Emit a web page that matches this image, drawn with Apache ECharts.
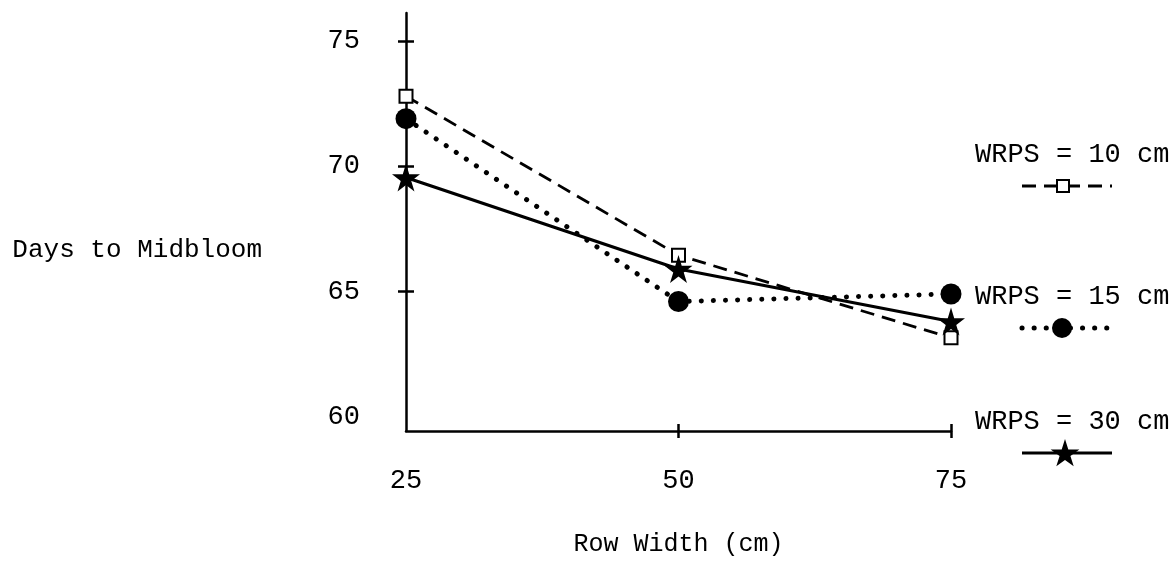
<!DOCTYPE html>
<html>
<head>
<meta charset="utf-8">
<script src="https://cdn.jsdelivr.net/npm/echarts@6/dist/echarts.min.js"></script>
<style>
html,body{margin:0;padding:0;background:#fff;}
#chart{width:1175px;height:562px;}
</style>
</head>
<body>
<div id="chart"></div>
<script>
// ---- data ----
var rowWidths = [25, 50, 75];
var wrps10 = [72.8, 66.45, 63.15];
var wrps15 = [71.9, 64.6, 64.9];
var wrps30 = [69.55, 65.9, 63.8];
var seriesNames = ['WRPS = 10 cm', 'WRPS = 15 cm', 'WRPS = 30 cm'];
var yTickValues = [65, 70, 75];
var yLabelValues = [60, 65, 70, 75];
var xTickValues = [50, 75];
var xLabelValues = [25, 50, 75];
var yTitle = 'Days to Midbloom';
var xTitle = 'Row Width (cm)';

var FONT = 'Liberation Mono';
var FS = 27;
var STAR_PTS = [[50,0],[61,35],[98,35],[68,57],[79,91],[50,70],[21,91],[32,57],[2,35],[39,35]];
var STAR = 'path://M' + STAR_PTS.map(function(p){return p[0]+','+p[1];}).join(' L') + ' Z';

function pairs(vals){ return rowWidths.map(function(x,i){ return [x, vals[i]]; }); }

var chart = echarts.init(document.getElementById('chart'), null, {renderer:'canvas'});

var axisLine = {show:true, onZero:false, lineStyle:{color:'#000', width:2.5}};

var option = {
  backgroundColor:'#fff',
  animation:false,
  grid:{left:406, right:224, top:13, bottom:126, containLabel:false},
  xAxis:[{
    type:'value', min:25, max:75,
    axisLine: axisLine,
    splitLine:{show:false},
    axisTick:{show:true, customValues:xTickValues, length:7, inside:false, lineStyle:{color:'#000', width:2.5}},
    axisLabel:{show:true, customValues:xLabelValues, margin:36, color:'#000', fontFamily:FONT, fontSize:FS},
    name:xTitle, nameLocation:'middle', nameGap:101,
    nameTextStyle:{color:'#000', fontFamily:FONT, fontSize:25}
  },{
    type:'value', min:25, max:75, position:'bottom',
    axisLine:{show:false}, splitLine:{show:false}, axisLabel:{show:false},
    axisTick:{show:true, customValues:xTickValues, length:7, inside:true, lineStyle:{color:'#000', width:2.5}}
  }],
  yAxis:[{
    type:'value', min:59.43, max:76.12,
    axisLine: axisLine,
    splitLine:{show:false},
    axisTick:{show:true, customValues:yTickValues, length:8, inside:false, lineStyle:{color:'#000', width:2.5}},
    axisLabel:{show:true, customValues:yLabelValues, margin:46, color:'#000', fontFamily:FONT, fontSize:FS}
  },{
    type:'value', min:59.43, max:76.12, position:'left',
    axisLine:{show:false}, splitLine:{show:false}, axisLabel:{show:false},
    axisTick:{show:true, customValues:yTickValues, length:8, inside:true, lineStyle:{color:'#000', width:2.5}}
  }],
  series:[
    {name:seriesNames[0], type:'line', data:pairs(wrps10), symbol:'rect', symbolSize:13,
     itemStyle:{color:'#fff', borderColor:'#000', borderWidth:2},
     lineStyle:{color:'#000', width:2.8, type:[14,8]}, z:3},
    {name:seriesNames[1], type:'line', data:pairs(wrps15), symbol:'circle', symbolSize:21,
     itemStyle:{color:'#000', borderColor:'#000', borderWidth:0},
     lineStyle:{color:'#000', width:5, type:[0.1,12], cap:'round'}, z:2},
    {name:seriesNames[2], type:'line', data:pairs(wrps30), symbol:STAR, symbolSize:28,
     itemStyle:{color:'#000', borderColor:'#000', borderWidth:0},
     lineStyle:{color:'#000', width:3.2, type:'solid'}, z:4}
  ]
};

// axis title for y and legend drawn as graphics
var graphics = [];
graphics.push({type:'text', x:262, y:250, style:{text:yTitle, fill:'#000', font:'26px "' + FONT + '"', align:'right', verticalAlign:'middle'}});

var legendTop = [155, 297, 422];
var legendStyles = [
  {dash:[14,8], w:2.8, sym:'rect'},
  {dash:[0.1,12], w:5, sym:'circle'},
  {dash:null, w:3.2, sym:'star'}
];
seriesNames.forEach(function(name, i){
  var ty = legendTop[i];
  var ly = ty + 31;
  graphics.push({type:'text', x:975, y:ty, style:{text:name, fill:'#000', font:FS + 'px "' + FONT + '"', verticalAlign:'middle'}});
  var st = legendStyles[i];
  graphics.push({type:'line', shape:{x1:1022, y1:ly, x2:1112, y2:ly},
    style:{stroke:'#000', lineWidth:st.w, lineDash:st.dash, lineCap: i===1?'round':'butt'}});
  if(st.sym==='rect'){
    graphics.push({type:'rect', shape:{x:1057, y:ly-6, width:12, height:12}, style:{fill:'#fff', stroke:'#000', lineWidth:2}});
  } else if(st.sym==='circle'){
    graphics.push({type:'circle', shape:{cx:1062, cy:ly, r:10}, style:{fill:'#000'}});
  } else {
    var pts = STAR_PTS.map(function(p){ return [1050 + p[0]*0.3, ly - 14 + p[1]*0.3]; });
    graphics.push({type:'polygon', shape:{points:pts}, style:{fill:'#000'}});
  }
});
option.graphic = graphics;

chart.setOption(option);
</script>
</body>
</html>
